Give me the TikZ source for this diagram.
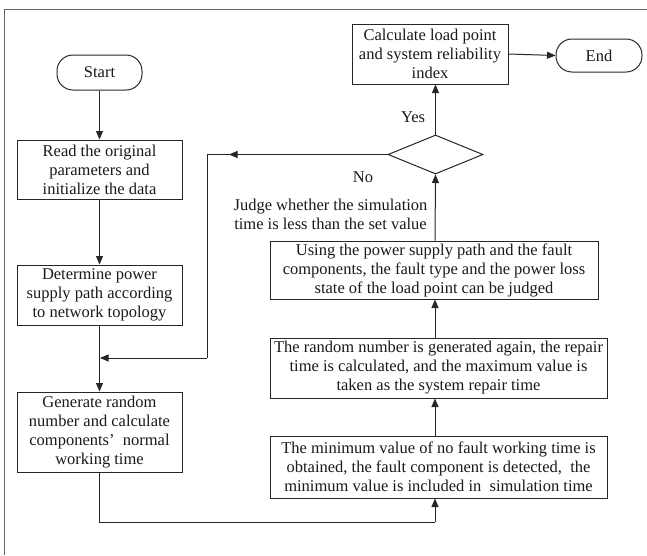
\documentclass[tikz,border=0pt]{standalone}
\usepackage{fontspec}
\setmainfont{Liberation Serif}
\usetikzlibrary{arrows.meta,shapes.geometric}
\begin{document}
\begin{tikzpicture}[x=1pt,y=-1pt,
  every node/.style={font=\fontsize{16.5}{19}\selectfont, text=black!90},
  box/.style={draw=black!85, line width=1pt, inner sep=0pt, align=center},
  term/.style={draw=black!85, line width=1pt, rounded corners=16pt, inner sep=0pt},
  dec/.style={draw=black!85, line width=1pt, diamond, aspect=2.4, inner sep=0pt, minimum width=95pt, minimum height=39pt},
  ln/.style={draw=black!85, line width=1pt},
  arr/.style={ln, -{Triangle[length=8.5pt,width=7pt]}},
  frame/.style={draw=black!60, line width=0.9pt}
]
\useasboundingbox (0,0) rectangle (647,555);
\coordinate (f1) at (4,555);
\coordinate (f2) at (4,9);
\coordinate (f3) at (647,9);
\draw[frame] (f1) -- (f2) -- (f3);

\node[term, minimum width=85pt, minimum height=35pt] (start) at (99.5,72.5) {Start};
\node[box, minimum width=165pt, minimum height=59pt] (b1) at (99.5,169.5) {Read the original\\parameters and\\initialize the data};
\node[box, minimum width=165pt, minimum height=60pt] (b2) at (99.5,295) {Determine power\\supply path according\\to network topology};
\node[box, minimum width=165pt, minimum height=80pt] (b3) at (99.5,432) {Generate random\\number and calculate\\components’\hspace{0.5em}normal\\working time};
\node[box, minimum width=337pt, minimum height=62pt] (b4) at (438.5,467) {The minimum value of no fault working time is\\obtained, the fault component is detected,\ \ the\\minimum value is included in\ \ simulation time};
\node[box, minimum width=337pt, minimum height=60pt] (b5) at (438.5,368) {The random number is generated again, the repair\\time is calculated, and the maximum value is\\taken as the system repair time};
\node[box, minimum width=328pt, minimum height=58pt] (b6) at (434,270) {Using the power supply path and the fault\\components, the fault type and the power loss\\state of the load point can be judged};
\node[dec] (dc) at (435.5,154.5) {};
\node[box, minimum width=156pt, minimum height=60pt] (b7) at (430,54) {Calculate load point\\and system reliability\\index};
\node[term, minimum width=86pt, minimum height=33pt] (end) at (599,55.5) {End};

\node (yes) at (413,117) {Yes};
\node (no) at (363,177) {No};
\node[align=center] (judge) at (330.5,214) {Judge whether the simulation\\time is less than the set value};

\coordinate (col) at (435,0);
\coordinate (fb1) at (207,154.5);
\coordinate (fbm) at (229,154.5);
\coordinate (fb2) at (207,358);
\coordinate (fb3) at (100,358);
\coordinate (r1) at (99.5,522);
\coordinate (r2) at (435,522);

\draw[arr] (start) -- (b1);
\draw[arr] (b1) -- (b2);
\draw[arr] (b2) -- (b3);
\draw[ln] (dc.west) -- (fb1) -- (fb2);
\draw[arr] (dc.west) -- (fbm);
\draw[arr] (fb2) -- (fb3);
\draw[ln] (b3.south) -- (r1) -- (r2);
\draw[arr] (r2) -- (b4.south -| col);
\draw[arr] (b4.north -| col) -- (b5.south -| col);
\draw[arr] (b5.north -| col) -- (b6.south -| col);
\draw[arr] (b6.north -| col) -- (dc.south);
\draw[arr] (dc.north) -- (b7.south -| dc);
\draw[arr] (b7.east) -- (end.west);
\end{tikzpicture}
\end{document}
